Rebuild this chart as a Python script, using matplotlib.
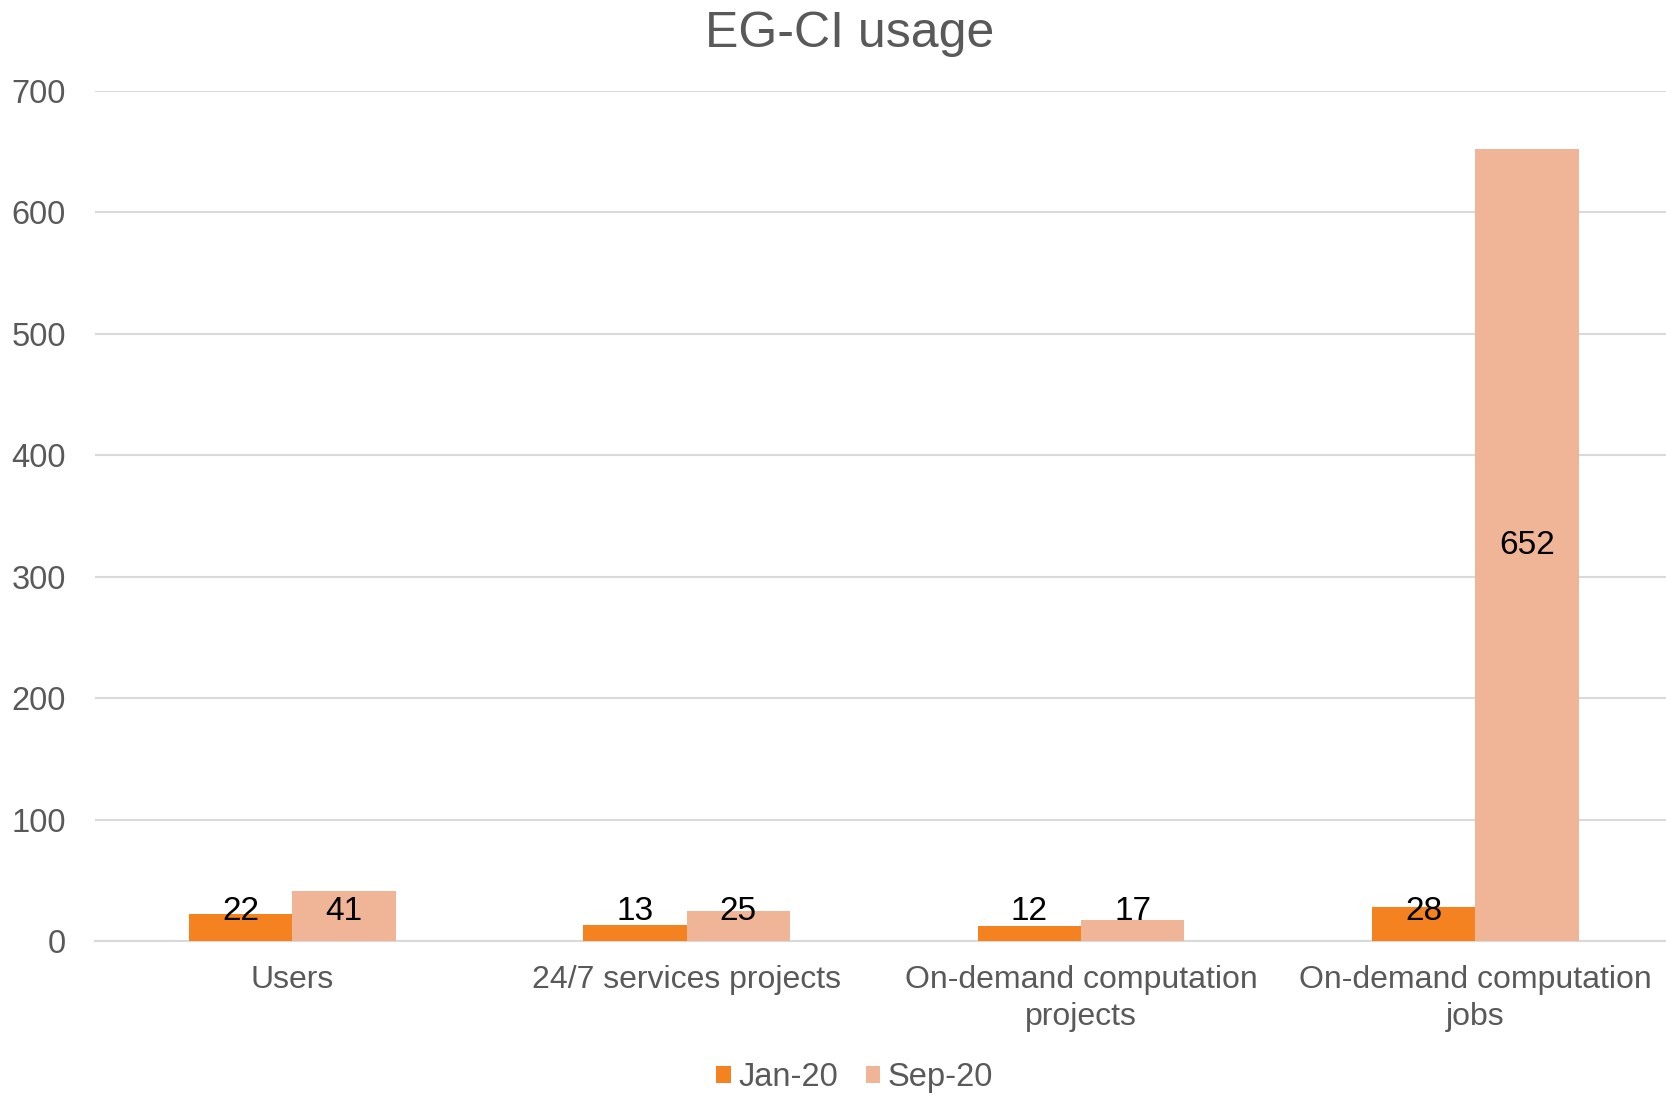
import numpy as np
import matplotlib
matplotlib.use("Agg")
import matplotlib.pyplot as plt

categories = ["Users", "24/7 services projects", "On-demand computation\nprojects",
              "On-demand computation\njobs"]
jan20 = [22, 13, 12, 28]
sep20 = [41, 25, 17, 652]

plt.rcParams['font.family'] = ['Liberation Sans', 'DejaVu Sans']
grey = '#595959'

fig = plt.figure(figsize=(16.66, 10.95), dpi=100)
ax = fig.add_axes([0.057, 0.1406, 0.947, 0.7763])

x = np.arange(len(categories))
w = 0.262
b1 = ax.bar(x - w / 2, jan20, w, color='#F58220', label='Jan-20', zorder=3)
b2 = ax.bar(x + w / 2, sep20, w, color='#F0B597', label='Sep-20', zorder=3)

for bars, vals in [(b1, jan20), (b2, sep20)]:
    for r, v in zip(bars, vals):
        ax.text(r.get_x() + r.get_width() / 2, max(v / 2, 24), str(v),
                ha='center', va='center', fontsize=24, color='black', zorder=4)

ax.set_xlim(-0.5, 3.5)
ax.set_ylim(0, 700)
ax.set_yticks(range(0, 701, 100))
ax.set_xticks(x)
ax.set_xticklabels(categories, fontsize=23, color=grey, linespacing=1.32)
ax.tick_params(axis='y', labelsize=23.5, labelcolor=grey, length=0, pad=21)
ax.tick_params(axis='x', length=0, pad=17)
ax.grid(axis='y', color='#D9D9D9', linewidth=1.5, zorder=0)
for s in ['top', 'right', 'left']:
    ax.spines[s].set_visible(False)
ax.spines['bottom'].set_color('#D9D9D9')
ax.spines['bottom'].set_linewidth(1.5)

fig.suptitle('EG-CI usage', fontsize=36, color=grey, x=0.51, y=0.99)
fig.legend(loc='lower center', ncol=2, frameon=False, fontsize=23.5,
           labelcolor=grey, bbox_to_anchor=(0.513, -0.025), handlelength=0.45,
           handleheight=0.45, handletextpad=0.23, columnspacing=0.85)

fig.savefig('out.png', dpi=100)
